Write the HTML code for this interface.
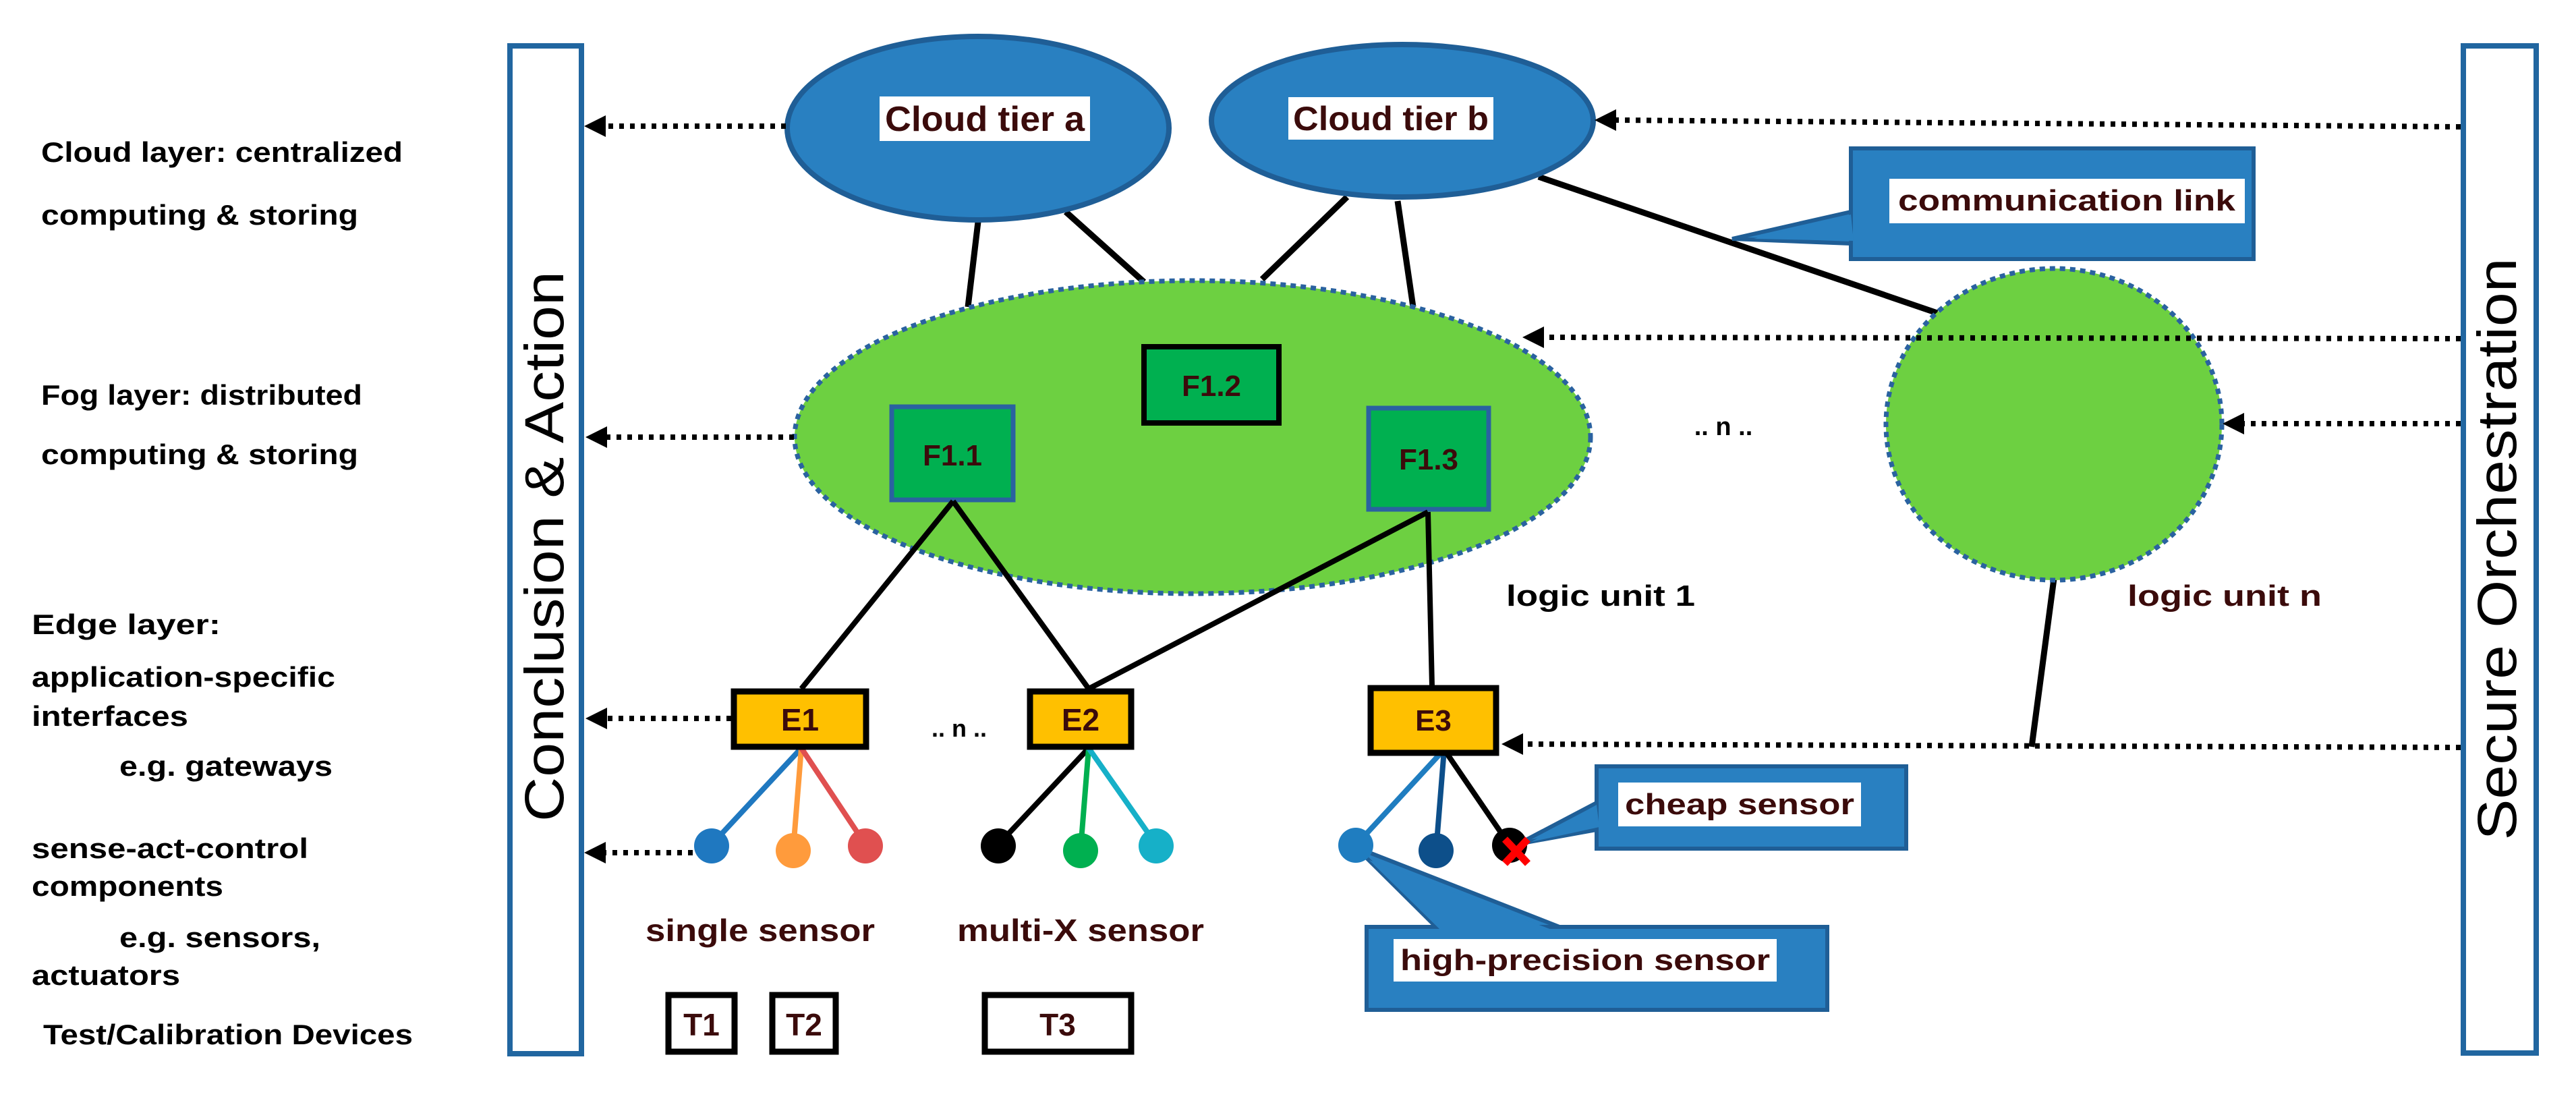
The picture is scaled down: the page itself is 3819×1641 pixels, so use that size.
<!DOCTYPE html>
<html><head><meta charset="utf-8"><style>
html,body{margin:0;padding:0;background:#fff;}
svg{display:block;}
.lbl{font-family:"Liberation Sans Narrow","Liberation Sans",sans-serif;font-weight:bold;font-size:42px;fill:#000;}
.mr{font-family:"Liberation Sans Narrow","Liberation Sans",sans-serif;font-weight:bold;fill:#3b0b0b;}
.ms{font-family:"Liberation Sans",sans-serif;font-weight:bold;fill:#3b0b0b;}
</style></head><body>
<svg width="3819" height="1641" viewBox="0 0 3819 1641" xmlns="http://www.w3.org/2000/svg">
<!-- left labels -->
<text class="lbl" x="61" y="240" textLength="536" lengthAdjust="spacingAndGlyphs">Cloud layer: centralized</text>
<text class="lbl" x="61" y="333" textLength="470" lengthAdjust="spacingAndGlyphs">computing &amp; storing</text>
<text class="lbl" x="61" y="600" textLength="476" lengthAdjust="spacingAndGlyphs">Fog layer: distributed</text>
<text class="lbl" x="61" y="688" textLength="470" lengthAdjust="spacingAndGlyphs">computing &amp; storing</text>
<text class="lbl" x="47" y="940" textLength="280" lengthAdjust="spacingAndGlyphs">Edge  layer:</text>
<text class="lbl" x="47" y="1018" textLength="450" lengthAdjust="spacingAndGlyphs">application-specific</text>
<text class="lbl" x="47" y="1076" textLength="232" lengthAdjust="spacingAndGlyphs">interfaces</text>
<text class="lbl" x="177" y="1150" textLength="316" lengthAdjust="spacingAndGlyphs">e.g. gateways</text>
<text class="lbl" x="47" y="1272" textLength="410" lengthAdjust="spacingAndGlyphs">sense-act-control</text>
<text class="lbl" x="47" y="1328" textLength="284" lengthAdjust="spacingAndGlyphs">components</text>
<text class="lbl" x="177" y="1404" textLength="298" lengthAdjust="spacingAndGlyphs">e.g. sensors,</text>
<text class="lbl" x="47" y="1460" textLength="220" lengthAdjust="spacingAndGlyphs">actuators</text>
<text class="lbl" x="64" y="1548" textLength="548" lengthAdjust="spacingAndGlyphs">Test/Calibration Devices</text>

<!-- side bars -->
<rect x="756" y="68" width="106" height="1494" fill="#fff" stroke="#2166a0" stroke-width="8"/>
<text transform="translate(835,810) rotate(-90)" text-anchor="middle" font-family="'Liberation Sans',sans-serif" font-size="82" textLength="816" lengthAdjust="spacingAndGlyphs" fill="#000">Conclusion &amp; Action</text>
<rect x="3652" y="68" width="108" height="1493" fill="#fff" stroke="#2166a0" stroke-width="8"/>
<text transform="translate(3730,814) rotate(-90)" text-anchor="middle" font-family="'Liberation Sans',sans-serif" font-size="82" textLength="863" lengthAdjust="spacingAndGlyphs" fill="#000">Secure Orchestration</text>

<!-- solid links -->
<g stroke="#000" stroke-width="9" stroke-linecap="butt" fill="none">
<line x1="1450" y1="329" x2="1435" y2="455"/>
<line x1="1580" y1="314" x2="1696" y2="418"/>
<line x1="1997" y1="292" x2="1871" y2="414"/>
<line x1="2072" y1="298" x2="2095" y2="455"/>
<line x1="2281" y1="262" x2="2872" y2="464"/>
<line x1="3045" y1="858" x2="3012" y2="1107"/>
</g>

<!-- clouds -->
<ellipse cx="1450" cy="190" rx="283" ry="136" fill="#2980c1" stroke="#1f5e96" stroke-width="8"/>
<rect x="1304" y="143" width="312" height="66" fill="#fff"/>
<text class="mr" x="1460" y="194" font-size="52" text-anchor="middle" textLength="296" lengthAdjust="spacingAndGlyphs">Cloud tier a</text>
<ellipse cx="2079" cy="179" rx="283" ry="113" fill="#2980c1" stroke="#1f5e96" stroke-width="8"/>
<rect x="1910" y="144" width="304" height="63" fill="#fff"/>
<text class="mr" x="2062" y="193" font-size="50" text-anchor="middle" textLength="290" lengthAdjust="spacingAndGlyphs">Cloud tier b</text>

<!-- fog -->
<ellipse cx="1768" cy="648" rx="590" ry="232" fill="#6dd041" stroke="#2a62a0" stroke-width="7" stroke-dasharray="8 7"/>
<ellipse cx="3045" cy="629" rx="249" ry="231" fill="#6dd041" stroke="#2a62a0" stroke-width="7" stroke-dasharray="8 7"/>

<!-- fog nodes -->
<rect x="1322" y="603" width="180" height="138" fill="#00b050" stroke="#2a62a0" stroke-width="7"/>
<text class="ms" x="1412" y="690" font-size="44" text-anchor="middle">F1.1</text>
<rect x="1696" y="514" width="200" height="113" fill="#00b050" stroke="#000" stroke-width="8"/>
<text class="ms" x="1796" y="587" font-size="44" text-anchor="middle">F1.2</text>
<rect x="2029" y="605" width="178" height="150" fill="#00b050" stroke="#2a62a0" stroke-width="7"/>
<text class="ms" x="2118" y="696" font-size="44" text-anchor="middle">F1.3</text>

<g stroke="#000" stroke-width="8" fill="none">
<line x1="1413" y1="743" x2="1188" y2="1021"/>
<line x1="1413" y1="743" x2="1614" y2="1021"/>
<line x1="2117" y1="759" x2="1614" y2="1021"/>
<line x1="2117" y1="759" x2="2123" y2="1017"/>
</g>

<text x="2373" y="898" font-family="'Liberation Sans',sans-serif" font-weight="bold" font-size="44" text-anchor="middle" textLength="280" lengthAdjust="spacingAndGlyphs">logic unit 1</text>
<text class="ms" x="3298" y="898" font-size="44" text-anchor="middle" textLength="288" lengthAdjust="spacingAndGlyphs">logic unit n</text>
<text x="2555" y="645" font-family="'Liberation Sans',sans-serif" font-weight="bold" font-size="38" text-anchor="middle">.. n ..</text>
<text x="1422" y="1092" font-family="'Liberation Sans',sans-serif" font-weight="bold" font-size="36" text-anchor="middle">.. n ..</text>

<!-- sensor lines -->
<g stroke-width="8" fill="none">
<line x1="1188" y1="1109" x2="1055" y2="1252" stroke="#1f78c0"/>
<line x1="1188" y1="1109" x2="1176" y2="1259" stroke="#ff9b3c"/>
<line x1="1188" y1="1109" x2="1283" y2="1252" stroke="#e05050"/>
<line x1="1614" y1="1109" x2="1480" y2="1252" stroke="#000"/>
<line x1="1614" y1="1109" x2="1602" y2="1259" stroke="#00b050"/>
<line x1="1614" y1="1109" x2="1714" y2="1252" stroke="#16b0c8"/>
<line x1="2141" y1="1111" x2="2010" y2="1253" stroke="#1f7dc0"/>
<line x1="2141" y1="1111" x2="2129" y2="1261" stroke="#0d4f8a"/>
<line x1="2141" y1="1111" x2="2238" y2="1253" stroke="#000"/>
</g>

<!-- edge boxes -->
<rect x="1088" y="1025" width="196" height="82" fill="#ffc000" stroke="#000" stroke-width="9"/>
<text class="mr" x="1186" y="1083" font-size="46" text-anchor="middle">E1</text>
<rect x="1527" y="1025" width="150" height="82" fill="#ffc000" stroke="#000" stroke-width="9"/>
<text class="mr" x="1602" y="1083" font-size="46" text-anchor="middle">E2</text>
<rect x="2032" y="1020" width="186" height="96" fill="#ffc000" stroke="#000" stroke-width="9"/>
<text class="ms" x="2125" y="1083" font-size="44" text-anchor="middle">E3</text>

<!-- sensors -->
<circle cx="1055" cy="1254" r="26" fill="#1f78c0"/>
<circle cx="1176" cy="1261" r="26" fill="#ff9b3c"/>
<circle cx="1283" cy="1254" r="26" fill="#e05050"/>
<circle cx="1480" cy="1254" r="26" fill="#000"/>
<circle cx="1602" cy="1261" r="26" fill="#00b050"/>
<circle cx="1714" cy="1254" r="26" fill="#16b0c8"/>

<!-- callouts -->
<polygon points="2744,314 2568,354 2744,361" fill="#2980c1" stroke="#1f5e96" stroke-width="6"/>
<rect x="2744" y="220" width="597" height="164" fill="#2980c1" stroke="#1f5e96" stroke-width="6"/>
<polygon points="2744,318 2600,354 2748,357" fill="#2980c1"/>
<rect x="2801" y="265" width="527" height="66" fill="#fff"/>
<text class="ms" x="3064" y="312" font-size="44" text-anchor="middle" textLength="500" lengthAdjust="spacingAndGlyphs">communication link</text>

<polygon points="2367,1190 2251,1251 2367,1230" fill="#2980c1" stroke="#1f5e96" stroke-width="6"/>
<rect x="2367" y="1136" width="459" height="122" fill="#2980c1" stroke="#1f5e96" stroke-width="6"/>
<polygon points="2367,1193 2270,1248 2371,1226" fill="#2980c1"/>
<rect x="2399" y="1160" width="360" height="65" fill="#fff"/>
<text class="ms" x="2579" y="1207" font-size="44" text-anchor="middle" textLength="340" lengthAdjust="spacingAndGlyphs">cheap sensor</text>

<polygon points="2129,1374 2010,1256 2312,1374" fill="#2980c1" stroke="#1f5e96" stroke-width="6"/>
<rect x="2026" y="1374" width="683" height="123" fill="#2980c1" stroke="#1f5e96" stroke-width="6"/>
<polygon points="2135,1378 2030,1275 2300,1378" fill="#2980c1"/>
<rect x="2066" y="1392" width="568" height="63" fill="#fff"/>
<text class="ms" x="2350" y="1438" font-size="44" text-anchor="middle" textLength="548" lengthAdjust="spacingAndGlyphs">high-precision sensor</text>

<circle cx="2010" cy="1253" r="26" fill="#1f7dc0"/>
<circle cx="2129" cy="1261" r="26" fill="#0d4f8a"/>
<circle cx="2238" cy="1253" r="26" fill="#000"/>
<g stroke="#ff0000" stroke-width="11"><line x1="2231" y1="1244" x2="2265" y2="1280"/><line x1="2265" y1="1244" x2="2231" y2="1280"/></g>

<text class="mr" x="1127" y="1395" font-size="46" text-anchor="middle" textLength="340" lengthAdjust="spacingAndGlyphs">single sensor</text>
<text class="mr" x="1602" y="1395" font-size="46" text-anchor="middle" textLength="366" lengthAdjust="spacingAndGlyphs">multi-X sensor</text>

<!-- test devices -->
<rect x="991" y="1475" width="98" height="84" fill="#fff" stroke="#000" stroke-width="9"/>
<text class="mr" x="1040" y="1535" font-size="46" text-anchor="middle">T1</text>
<rect x="1145" y="1475" width="94" height="84" fill="#fff" stroke="#000" stroke-width="9"/>
<text class="mr" x="1192" y="1535" font-size="46" text-anchor="middle">T2</text>
<rect x="1460" y="1475" width="217" height="84" fill="#fff" stroke="#000" stroke-width="9"/>
<text class="mr" x="1568" y="1535" font-size="46" text-anchor="middle">T3</text>

<!-- dotted arrows -->
<g stroke="#000" stroke-width="8" stroke-dasharray="7 9" fill="none">
<line x1="1165" y1="187" x2="895" y2="187"/>
<line x1="1177" y1="648" x2="898" y2="648"/>
<line x1="1084" y1="1065" x2="898" y2="1065"/>
<line x1="1027" y1="1264" x2="895" y2="1264"/>
<line x1="3648" y1="188" x2="2393" y2="178"/>
<line x1="3648" y1="502" x2="2287" y2="500"/>
<line x1="3648" y1="628" x2="3324" y2="628"/>
<line x1="3648" y1="1108" x2="2257" y2="1103"/>
</g>
<g fill="#000">
<polygon points="866,187 898,171 898,203"/>
<polygon points="868,648 900,632 900,664"/>
<polygon points="868,1065 900,1049 900,1081"/>
<polygon points="866,1264 898,1248 898,1280"/>
<polygon points="2364,178 2396,162 2396,194"/>
<polygon points="2257,500 2289,484 2289,516"/>
<polygon points="3295,628 3327,612 3327,644"/>
<polygon points="2226,1103 2258,1087 2258,1119"/>
</g>
</svg>
</body></html>
